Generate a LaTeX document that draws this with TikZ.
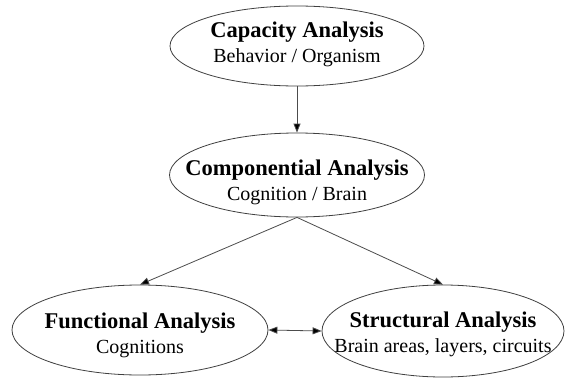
\documentclass[tikz,border=0pt]{standalone}
\usepackage{fontspec}
\setmainfont{Liberation Serif}
\usetikzlibrary{shapes.geometric,arrows.meta}
\begin{document}
\begin{tikzpicture}[x=1pt,y=-1pt,
  oval/.style={ellipse,draw=black!75,line width=0.8pt,inner sep=0pt},
  lbl/.style={align=center,inner sep=0pt,font=\fontsize{22.5}{25}\selectfont},
  sub/.style={font=\fontsize{20}{25}\selectfont\mdseries},
  conn/.style={draw=black!70,line width=0.8pt,-{Triangle[length=9pt,width=7pt,fill=black]}},
  biconn/.style={draw=black!70,line width=0.8pt,{Triangle[length=9pt,width=7pt,fill=black]}-{Triangle[length=9pt,width=7pt,fill=black]}}]
\useasboundingbox[fill=white] (0,0) rectangle (565,380);
\node[oval,minimum width=254pt,minimum height=80pt] (cap) at (297,46) {};
\node[lbl] (capt) at (297,44) {\textbf{Capacity Analysis}\\{\fontsize{20}{25}\selectfont Behavior / Organism}};
\node[oval,minimum width=255pt,minimum height=84pt] (comp) at (297,175) {};
\node[lbl] (compt) at (297,182) {\textbf{Componential Analysis}\\{\fontsize{20}{25}\selectfont Cognition / Brain}};
\node[oval,minimum width=256pt,minimum height=90pt] (fun) at (140,330) {};
\node[lbl] (funt) at (140,335) {\textbf{Functional Analysis}\\{\fontsize{20}{25}\selectfont Cognitions}};
\node[oval,minimum width=242pt,minimum height=92pt] (str) at (443,331) {};
\node[lbl] (strt) at (443,334) {\textbf{Structural Analysis}\\{\fontsize{20}{25}\selectfont Brain areas, layers, circuits}};
\draw[conn] (cap.south) -- (comp.north);
\draw[conn] (comp.south) -- (fun.north);
\draw[conn] (comp.south) -- (str.north);
\draw[biconn] (fun.east) -- (str.west);
\end{tikzpicture}
\end{document}
